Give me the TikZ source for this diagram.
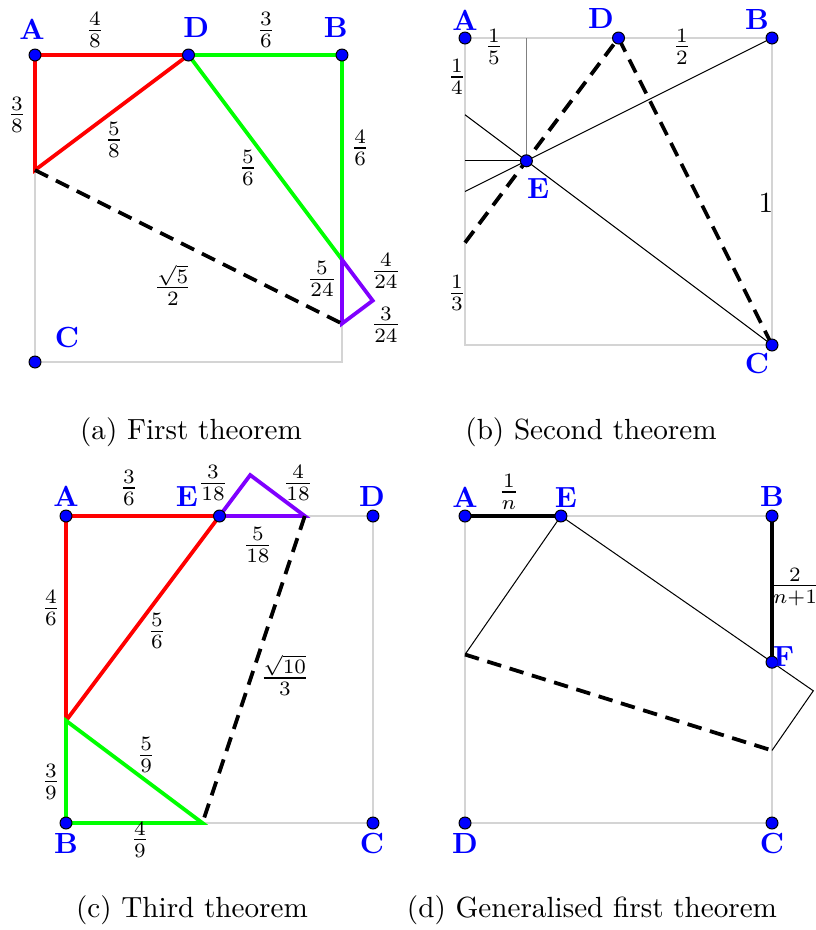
\documentclass[tikz,border=0pt]{standalone}
\usepackage{xcolor}
\definecolor{violetline}{RGB}{127,0,255}
\definecolor{lightgrayline}{RGB}{212,212,212}
\begin{document}
\begin{tikzpicture}[x=0.343pt,y=-0.343pt,
  dot/.style={circle,inner sep=0pt,minimum size=4.1pt,fill=blue,draw=black,line width=0.35pt},
  ptlabel/.style={text=blue,font=\bfseries,inner sep=0pt},
  frame/.style={draw=lightgrayline,line width=0.5pt},
  redline/.style={draw=red,line width=1.3pt},
  greenline/.style={draw=green,line width=1.3pt},
  violetedge/.style={draw=violetline,line width=1.3pt},
  crease/.style={draw=black,line width=1.3pt,dash pattern=on 5pt off 3pt,line join=round},
  thinline/.style={draw=black,line width=0.35pt},
  grayline/.style={draw=gray,line width=0.6pt},
  thickblack/.style={draw=black,line width=1.3pt},
  fraclabel/.style={inner sep=0pt},
  captiontext/.style={inner sep=0pt}]
\useasboundingbox (0,0) rectangle (816,930);

% ---------------- (a) ----------------
\begin{scope}[shift={(35,362)},x=105.3pt,y=105.3pt]
  \coordinate (aA) at (0,1);
  \coordinate (aD) at (0.5,1);
  \coordinate (aB) at (1,1);
  \coordinate (aC) at (0,0);
  \coordinate (aBR) at (1,0);
  \coordinate (aP) at (0,0.625);
  \coordinate (aQ) at (1,0.33333);
  \coordinate (aS) at (1,0.125);
  \coordinate (aR) at (1.1,0.2);
  \draw[frame] (aP) -- (aC) -- (aBR) -- (aS);
  \draw[redline] (aA) -- (aD) -- (aP) -- cycle;
  \draw[greenline] (aD) -- (aB) -- (aQ) -- cycle;
  \draw[violetedge] (aQ) -- (aR) -- (aS) -- cycle;
  \draw[crease] (aP) -- (aS);
  \node[dot] (aAd) at (aA) {};
  \node[dot] (aDd) at (aD) {};
  \node[dot] (aBd) at (aB) {};
  \node[dot] (aCd) at (aC) {};
  \node[ptlabel] (aAl) at (-0.01,1.085) {A};
  \node[ptlabel] (aDl) at (0.525,1.09) {D};
  \node[ptlabel] (aBl) at (0.98,1.09) {B};
  \node[ptlabel] (aCl) at (0.104,0.081) {C};
  \node[fraclabel] (af1) at (0.195,1.081) {$\frac{4}{8}$};
  \node[fraclabel] (af2) at (0.752,1.081) {$\frac{3}{6}$};
  \node[fraclabel] (af3) at (-0.059,0.805) {$\frac{3}{8}$};
  \node[fraclabel] (af4) at (0.257,0.723) {$\frac{5}{8}$};
  \node[fraclabel] (af5) at (0.694,0.632) {$\frac{5}{6}$};
  \node[fraclabel] (af6) at (1.059,0.697) {$\frac{4}{6}$};
  \node[fraclabel] (af7) at (0.449,0.251) {$\frac{\sqrt{5}}{2}$};
  \node[fraclabel] (af8) at (0.935,0.270) {$\frac{5}{24}$};
  \node[fraclabel] (af9) at (1.143,0.296) {$\frac{4}{24}$};
  \node[fraclabel] (af10) at (1.143,0.121) {$\frac{3}{24}$};
\end{scope}

% ---------------- (b) ----------------
\begin{scope}[shift={(465,345)},x=105.3pt,y=105.3pt]
  \coordinate (bA) at (0,1);
  \coordinate (bB) at (1,1);
  \coordinate (bC) at (1,0);
  \coordinate (bBL) at (0,0);
  \coordinate (bD) at (0.5,1);
  \coordinate (bE) at (0.2,0.6);
  \coordinate (bL1) at (0,0.5);
  \coordinate (bL2) at (0,0.75);
  \coordinate (bL3) at (0,0.6);
  \coordinate (bT) at (0.2,1);
  \coordinate (bL4) at (0,0.33333);
  \draw[frame] (bA) -- (bB) -- (bC) -- (bBL) -- cycle;
  \draw[thinline] (bB) -- (bL1);
  \draw[thinline] (bC) -- (bL2);
  \draw[thinline] (bL3) -- (bE);
  \draw[grayline] (bT) -- (bE);
  \draw[crease] (bL4) -- (bD) -- (bC);
  \node[dot] (bAd) at (bA) {};
  \node[dot] (bDd) at (bD) {};
  \node[dot] (bBd) at (bB) {};
  \node[dot] (bEd) at (bE) {};
  \node[dot] (bCd) at (bC) {};
  \node[ptlabel] (bAl) at (0,1.059) {A};
  \node[ptlabel] (bDl) at (0.443,1.062) {D};
  \node[ptlabel] (bBl) at (0.951,1.059) {B};
  \node[ptlabel] (bEl) at (0.238,0.511) {E};
  \node[ptlabel] (bCl) at (0.951,-0.059) {C};
  \node[fraclabel] (bf1) at (0.094,0.971) {$\frac{1}{5}$};
  \node[fraclabel] (bf2) at (0.707,0.971) {$\frac{1}{2}$};
  \node[fraclabel] (bf3) at (-0.026,0.873) {$\frac{1}{4}$};
  \node[fraclabel] (bf4) at (-0.026,0.169) {$\frac{1}{3}$};
  \node[fraclabel] (bf5) at (0.980,0.463) {$1$};
\end{scope}

% ---------------- (c) ----------------
\begin{scope}[shift={(66,823)},x=105.3pt,y=105.3pt]
  \coordinate (cA) at (0,1);
  \coordinate (cE) at (0.5,1);
  \coordinate (cD) at (1,1);
  \coordinate (cB) at (0,0);
  \coordinate (cC) at (1,0);
  \coordinate (cP) at (0,0.33333);
  \coordinate (cQ) at (0.44444,0);
  \coordinate (cS) at (0.77778,1);
  \coordinate (cR) at (0.6,1.13333);
  \draw[frame] (cS) -- (cD) -- (cC) -- (cQ);
  \draw[redline] (cA) -- (cE) -- (cP) -- cycle;
  \draw[greenline] (cP) -- (cB) -- (cQ) -- cycle;
  \draw[violetedge] (cE) -- (cR) -- (cS) -- cycle;
  \draw[crease] (cS) -- (cQ);
  \node[dot] (cAd) at (cA) {};
  \node[dot] (cEd) at (cE) {};
  \node[dot] (cDd) at (cD) {};
  \node[dot] (cBd) at (cB) {};
  \node[dot] (cCd) at (cC) {};
  \node[ptlabel] (cAl) at (0,1.065) {A};
  \node[ptlabel] (cEl) at (0.394,1.062) {E};
  \node[ptlabel] (cDl) at (0.997,1.065) {D};
  \node[ptlabel] (cBl) at (0,-0.068) {B};
  \node[ptlabel] (cCl) at (0.997,-0.068) {C};
  \node[fraclabel] (cf1) at (0.205,1.091) {$\frac{3}{6}$};
  \node[fraclabel] (cf2) at (0.479,1.107) {$\frac{3}{18}$};
  \node[fraclabel] (cf3) at (0.756,1.107) {$\frac{4}{18}$};
  \node[fraclabel] (cf4) at (0.625,0.905) {$\frac{5}{18}$};
  \node[fraclabel] (cf5) at (-0.049,0.700) {$\frac{4}{6}$};
  \node[fraclabel] (cf6) at (0.296,0.625) {$\frac{5}{6}$};
  \node[fraclabel] (cf7) at (0.713,0.482) {$\frac{\sqrt{10}}{3}$};
  \node[fraclabel] (cf8) at (0.261,0.221) {$\frac{5}{9}$};
  \node[fraclabel] (cf9) at (-0.049,0.134) {$\frac{3}{9}$};
  \node[fraclabel] (cf10) at (0.241,-0.055) {$\frac{4}{9}$};
\end{scope}

% ---------------- (d) ----------------
\begin{scope}[shift={(465,823)},x=105.3pt,y=105.3pt]
  \coordinate (dA) at (0,1);
  \coordinate (dB) at (1,1);
  \coordinate (dC) at (1,0);
  \coordinate (dD) at (0,0);
  \coordinate (dE) at (0.3125,1);
  \coordinate (dF) at (1,0.52381);
  \coordinate (dL) at (0,0.548828);
  \coordinate (dM) at (1,0.236328);
  \coordinate (dK) at (1.13456,0.4306);
  \draw[frame] (dE) -- (dB);
  \draw[frame] (dF) -- (dC) -- (dD) -- (dA);
  \draw[thickblack] (dA) -- (dE);
  \draw[thickblack] (dB) -- (dF);
  \draw[thinline] (dL) -- (dE) -- (dK) -- (dM);
  \draw[crease] (dL) -- (dM);
  \node[dot] (dAd) at (dA) {};
  \node[dot] (dEd) at (dE) {};
  \node[dot] (dBd) at (dB) {};
  \node[dot] (dFd) at (dF) {};
  \node[dot] (dDd) at (dD) {};
  \node[dot] (dCd) at (dC) {};
  \node[ptlabel] (dAl) at (0,1.062) {A};
  \node[ptlabel] (dEl) at (0.329,1.060) {E};
  \node[ptlabel] (dBl) at (1,1.062) {B};
  \node[ptlabel] (dFl) at (1.038,0.541) {F};
  \node[ptlabel] (dDl) at (0,-0.068) {D};
  \node[ptlabel] (dCl) at (1,-0.068) {C};
  \node[fraclabel] (df1) at (0.143,1.078) {$\frac{1}{n}$};
  \node[fraclabel] (df2) at (1.075,0.769) {$\frac{2}{n+1}$};
\end{scope}

% ---------------- captions ----------------
\node[captiontext] (capa) at (191,432) {(a) First theorem};
\node[captiontext] (capb) at (591,432) {(b) Second theorem};
\node[captiontext] (capc) at (192,910) {(c) Third theorem};
\node[captiontext] (capd) at (592,910) {(d) Generalised first theorem};
\end{tikzpicture}
\end{document}
